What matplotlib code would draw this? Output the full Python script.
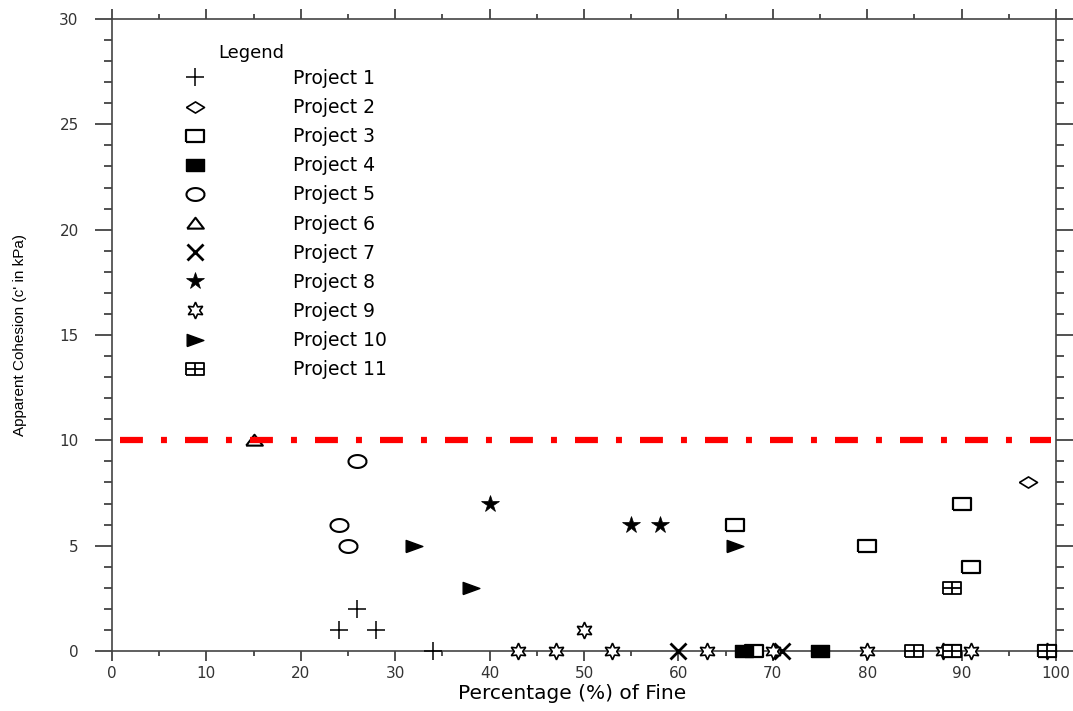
import numpy as np
import matplotlib
matplotlib.use("Agg")
from matplotlib import pyplot as plt
from matplotlib.path import Path

plt.rcParams['font.family'] = ['DejaVu Sans']
plt.rcParams['lines.scale_dashes'] = False

# data: (percentage of fine, apparent cohesion)
p1_x = [24, 26, 28, 34]
p1_y = [1, 2, 1, 0]
p2_x = [97, 99]
p2_y = [8, 0]
p3_x = [66, 80, 90, 91, 68, 89, 99]
p3_y = [6, 5, 7, 4, 0, 0, 0]
p4_x = [67, 75]
p4_y = [0, 0]
p5_x = [26, 24, 25]
p5_y = [9, 6, 5]
p6_x = [15]
p6_y = [10]
p7_x = [60, 71]
p7_y = [0, 0]
p8_x = [40, 55, 58]
p8_y = [7, 6, 6]
p9_x = [50, 43, 47, 53, 63, 70, 80, 88, 91, 99]
p9_y = [1, 0, 0, 0, 0, 0, 0, 0, 0, 0]
p10_x = [32, 38, 66]
p10_y = [5, 3, 5]
p11_x = [89, 85, 89, 99]
p11_y = [3, 0, 0, 0]
limit_c = 10

labels = ['Project %d' % i for i in range(1, 12)]

# wide markers (the source image is a bit stretched sideways)
rect = Path([(-1.4, -1), (1.4, -1), (1.4, 1), (-1.4, 1), (-1.4, -1)])
t = np.linspace(0, 2 * np.pi, 40)
ellipse = Path(np.column_stack([1.4 * np.cos(t), np.sin(t)]))
boxplus = Path([(-1.4, -1), (1.4, -1), (1.4, 1), (-1.4, 1), (-1.4, -1),
                (-1.4, 0), (1.4, 0), (0, -1), (0, 1)],
               [Path.MOVETO, Path.LINETO, Path.LINETO, Path.LINETO, Path.LINETO,
                Path.MOVETO, Path.LINETO, Path.MOVETO, Path.LINETO])
diamond = Path([(-1.3, 0), (0, 0.8), (1.3, 0), (0, -0.8), (-1.3, 0)])
tri_up = Path([(-1.3, -0.8), (1.3, -0.8), (0, 0.9), (-1.3, -0.8)])
tri_r = Path([(-1.1, -0.8), (1.1, 0), (-1.1, 0.8), (-1.1, -0.8)])

styles = [
    dict(marker='+', ms=13, mew=1.1, color='black'),
    dict(marker=diamond, ms=13, mew=1.2, mfc='white', mec='black'),
    dict(marker=rect, ms=13, mew=1.6, mfc='white', mec='black'),
    dict(marker=rect, ms=13, mew=1.0, mfc='black', mec='black'),
    dict(marker=ellipse, ms=13, mew=1.5, mfc='white', mec='black'),
    dict(marker=tri_up, ms=12, mew=1.5, mfc='white', mec='black'),
    dict(marker='x', ms=11, mew=2.0, color='black'),
    dict(marker='*', ms=13, mew=0.5, mfc='black', mec='black'),
    dict(marker=(6, 1, 0), ms=12, mew=1.2, mfc='white', mec='black'),
    dict(marker=tri_r, ms=12, mew=1.0, mfc='black', mec='black'),
    dict(marker=boxplus, ms=13, mew=1.3, mfc='white', mec='black'),
]
series = [(p1_x, p1_y), (p2_x, p2_y), (p3_x, p3_y), (p4_x, p4_y), (p5_x, p5_y),
          (p6_x, p6_y), (p7_x, p7_y), (p8_x, p8_y), (p9_x, p9_y), (p10_x, p10_y),
          (p11_x, p11_y)]

fig = plt.figure(figsize=(10.73, 7.11), dpi=100)
W, H = 1073, 711
ax = fig.add_axes([112 / W, 1 - 651 / H, (1056 - 112) / W, (651 - 19) / H])

handles = []
for (x, y), st, lab in zip(series, styles, labels):
    h, = ax.plot(x, y, linestyle='none', label=lab, clip_on=False, zorder=3, **st)
    handles.append(h)

ax.axhline(limit_c, color='#ff0000', lw=4.5, dashes=(16.5, 13, 4.3, 13),
           dash_capstyle='butt', zorder=4, xmin=0.008, xmax=0.995)

ax.set_xlim(0, 100)
ax.set_ylim(0, 30)
ax.set_xticks(np.arange(0, 101, 10))
ax.set_xticks(np.arange(0, 101, 5), minor=True)
ax.set_yticks(np.arange(0, 31, 5))
ax.set_yticks(np.arange(0, 31, 1), minor=True)
ax.tick_params(which='both', direction='out', top=True, right=True,
               color='#333333', width=1.2, labelsize=11, labelcolor='#333333')
ax.tick_params(axis='x', which='major', length=7, pad=4)
ax.tick_params(axis='x', which='minor', length=3.6)
ax.tick_params(axis='y', which='major', length=12, pad=12)
ax.tick_params(axis='y', which='minor', length=5.5)
for s in ax.spines.values():
    s.set_color('#444444')
    s.set_linewidth(1.2)

ax.set_xlabel('Percentage (%) of Fine', fontsize=14.5)
ax.xaxis.set_label_coords(0.487, -0.067)
ax.xaxis.label.set_va('center')
ax.set_ylabel("Apparent Cohesion (c' in kPa)", fontsize=11,
              family=['Liberation Sans Narrow', 'Liberation Sans', 'DejaVu Sans'])
ax.yaxis.set_label_coords(-0.09, 0.5)

ax.text(218 / W, 1 - 53 / H, 'Legend', transform=fig.transFigure,
        fontsize=13, va='center', ha='left')
ax.legend(handles=handles, loc='upper left', bbox_to_anchor=(176 / W, 1 - 69 / H),
          bbox_transform=fig.transFigure, frameon=False, numpoints=1,
          fontsize=13.5, handlelength=2.0, handletextpad=4.24, labelspacing=0.54,
          borderpad=0, borderaxespad=0)

fig.savefig('out.png', dpi=100)
